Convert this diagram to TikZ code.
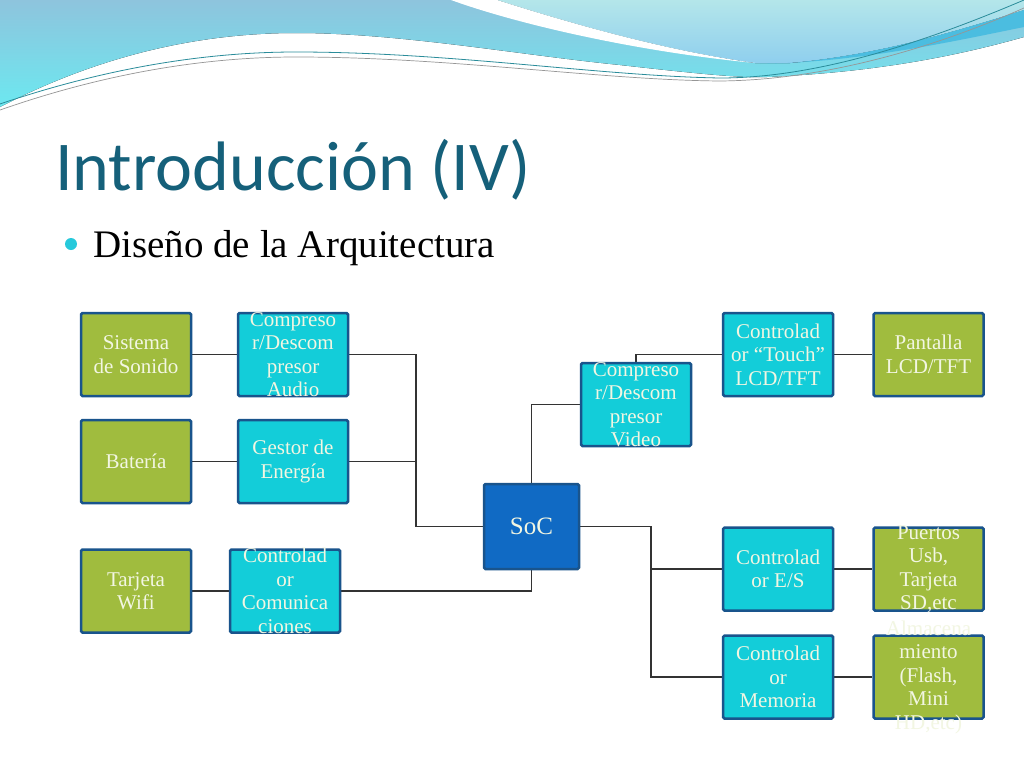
\documentclass[tikz,border=0pt]{standalone}
\usepackage{fontspec}
\setmainfont{Liberation Serif}
\newfontfamily\titlefont{Carlito}
\usetikzlibrary{backgrounds}
\definecolor{titlec}{RGB}{21,96,122}
\definecolor{bulletc}{RGB}{38,201,219}
\definecolor{greenb}{RGB}{160,188,62}
\definecolor{cyanb}{RGB}{19,205,217}
\definecolor{socb}{RGB}{16,106,196}
\definecolor{borderb}{RGB}{25,84,140}
\definecolor{txtb}{RGB}{242,246,226}
\definecolor{hdrtop}{RGB}{142,196,221}
\definecolor{hdrbot}{RGB}{108,232,240}
\definecolor{paletop}{RGB}{180,230,234}
\definecolor{palebot}{RGB}{143,207,238}
\definecolor{stripe}{RGB}{75,189,224}
\definecolor{lineA}{RGB}{42,140,154}
\definecolor{lineB}{RGB}{150,150,150}
\tikzset{
  boxbase/.style={draw=borderb, line width=2.5pt, rounded corners=1.5pt,
    minimum width=110pt, minimum height=83pt, inner sep=0pt},
  greenbox/.style={boxbase, fill=greenb},
  cyanbox/.style={boxbase, fill=cyanb},
  socbox/.style={boxbase, fill=socb, minimum width=95pt, minimum height=85pt},
  lbl/.style={text=txtb, align=center, font=\fontsize{21}{23.5}\selectfont, inner sep=0pt},
  conn/.style={draw=black!80, line width=1.2pt},
}
\begin{document}
\begin{tikzpicture}[x=1pt,y=-1pt]
\begin{pgfonlayer}{background}
\fill[white] (0,0) rectangle (1024,768);
\end{pgfonlayer}
\useasboundingbox (0,0) rectangle (1024,768);
% header waves
\fill[top color=hdrtop, bottom color=hdrbot] (0,0) -- (0,107)
  .. controls (100,55) and (200,33) .. (296,33)
  .. controls (400,33) and (520,55) .. (620,65)
  .. controls (700,74) and (740,78) .. (767,77)
  .. controls (880,72) and (960,55) .. (1024,37) -- (1024,0) -- cycle;
\fill[top color=paletop, bottom color=palebot] (497,0)
  .. controls (560,20) and (660,50) .. (755,63) -- (790,63)
  .. controls (880,55) and (960,30) .. (1024,10) -- (1024,0) -- cycle;
\fill[stripe] (760,64) .. controls (860,62) and (950,42) .. (1024,27) -- (1024,10)
  .. controls (960,30) and (880,55) .. (790,63) -- cycle;
\fill[white] (451,0) .. controls (520,25) and (640,52) .. (755,63)
  .. controls (660,50) and (560,20) .. (497,0) -- cycle;
\draw[lineA, line width=0.8pt] (0,104) .. controls (100,70) and (200,52) .. (296,52)
  .. controls (450,52) and (600,76) .. (720,78) .. controls (820,78) and (930,40) .. (1024,0);
\draw[lineB, line width=0.7pt] (0,110) .. controls (100,75) and (200,57) .. (296,57)
  .. controls (450,57) and (600,80) .. (720,81) .. controls (830,80) and (940,45) .. (1024,8);
% title
\node[anchor=base west, inner sep=0pt, text=titlec, font=\titlefont\fontsize{70}{80}\selectfont] (title) at (55,190) {Introducción (IV)};
\fill[bulletc] (71,244) circle (6pt);
\node[anchor=base west, inner sep=0pt, font=\fontsize{39}{45}\selectfont] (sub) at (93,257) {Diseño de la Arquitectura};
% boxes
\node[greenbox, label={[lbl]center:{Sistema\\de Sonido}}] (sis) at (136,354.5) {};
\node[cyanbox, label={[lbl]center:{Compreso\\r/Descom\\presor\\Audio}}] (caud) at (293,354.5) {};
\node[greenbox, label={[lbl]center:{Batería}}] (bat) at (136,461.5) {};
\node[cyanbox, label={[lbl]center:{Gestor de\\Energía}}] (ges) at (293,461.5) {};
\node[greenbox, label={[lbl]center:{Tarjeta\\Wifi}}] (wifi) at (136,591) {};
\node[cyanbox, label={[lbl]center:{Controlad\\or\\Comunica\\ciones}}] (ccom) at (285,591) {};
\node[socbox, label={[lbl, font=\fontsize{25}{28}\selectfont]center:{SoC}}] (soc) at (531.5,526.5) {};
\node[cyanbox, label={[lbl]center:{Compreso\\r/Descom\\presor\\Video}}] (cvid) at (636,404.5) {};
\node[cyanbox, label={[lbl]center:{Controlad\\or “Touch”\\LCD/TFT}}] (ctouch) at (778,354.5) {};
\node[greenbox, label={[lbl]center:{Pantalla\\LCD/TFT}}] (pant) at (928.5,354.5) {};
\node[cyanbox, label={[lbl]center:{Controlad\\or E/S}}] (ces) at (778,569) {};
\node[greenbox, label={[lbl]center:{Puertos\\Usb,\\Tarjeta\\SD,etc}}] (pue) at (928.5,569) {};
\node[cyanbox, label={[lbl]center:{Controlad\\or\\Memoria}}] (cmem) at (778,677) {};
\node[greenbox, label={[lbl]center:{Almacena\\miento\\(Flash,\\Mini\\HD,etc)}}] (alm) at (928.5,677) {};
\coordinate (jL) at (416,526.5);
\coordinate (jR) at (651,526.5);
% connectors
\begin{pgfonlayer}{background}
\draw[conn] (sis) -- (caud);
\draw[conn] (bat) -- (ges);
\draw[conn] (wifi) -- (ccom);
\draw[conn] (caud.east) -| (jL) -- (soc.west);
\draw[conn] (ges.east) -- (ges.east -| jL);
\draw[conn] (ccom.east) -| (soc.south);
\draw[conn] (soc.north) |- (cvid.west);
\draw[conn] (cvid.north) |- (ctouch.west);
\draw[conn] (ctouch) -- (pant);
\draw[conn] (soc.east) -- (jR) |- (cmem.west);
\draw[conn] (jR |- ces.west) -- (ces.west);
\draw[conn] (ces) -- (pue);
\draw[conn] (cmem) -- (alm);
\end{pgfonlayer}
\end{tikzpicture}
\end{document}
